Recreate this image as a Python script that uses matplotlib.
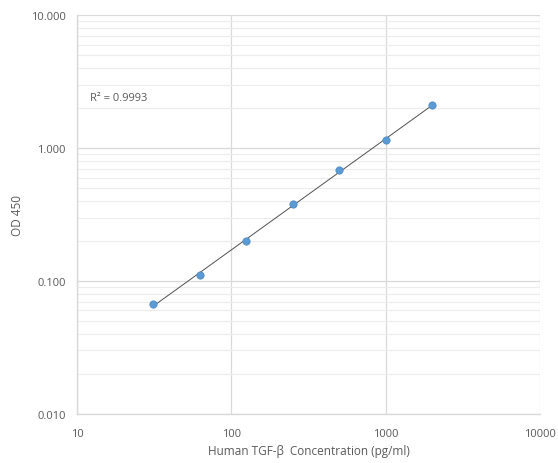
import numpy as np
import matplotlib.pyplot as plt
from matplotlib.ticker import FixedLocator, FuncFormatter, NullFormatter

# standard curve
conc = [31.25, 62.5, 125, 250, 500, 1000, 2000]
od450 = [0.067, 0.111, 0.200, 0.379, 0.684, 1.15, 2.10]
r2_text = "R\u00b2 = 0.9993"

plt.rcParams['font.family'] = ['Open Sans', 'DejaVu Sans']
text_col = '#595959'
grid_col = '#d9d9d9'

fig = plt.figure(figsize=(5.58, 4.64), dpi=100)
ax = fig.add_axes([0.138, 0.106, 0.830, 0.859])

ax.set_xscale('log')
ax.set_yscale('log')
ax.set_xlim(10, 10000)
ax.set_ylim(0.01, 10)

# power trendline fitted in log space
lx, ly = np.log10(conc), np.log10(od450)
b, a = np.polyfit(lx, ly, 1)
xs = np.logspace(lx[0], lx[-1], 50)
ax.plot(xs, 10 ** a * xs ** b, color='#505050', lw=0.7, zorder=2)

ax.scatter(conc, od450, s=28, color='#5b9bd5', edgecolor='#4a86c0', lw=0.5, zorder=3)

ax.text(0.028, 0.788, r2_text, transform=ax.transAxes, fontsize=8, color=text_col)

ax.xaxis.set_major_locator(FixedLocator([10, 100, 1000, 10000]))
ax.xaxis.set_minor_locator(FixedLocator([]))
ax.xaxis.set_major_formatter(FuncFormatter(lambda v, p: f"{v:.0f}"))
ax.yaxis.set_major_locator(FixedLocator([0.01, 0.1, 1, 10]))
ax.yaxis.set_minor_locator(FixedLocator([m * d for d in (0.01, 0.1, 1) for m in range(2, 10)]))
ax.yaxis.set_major_formatter(FuncFormatter(lambda v, p: f"{v:.3f}"))
ax.yaxis.set_minor_formatter(NullFormatter())

ax.grid(True, which='major', color=grid_col, lw=0.9, zorder=0)
ax.grid(True, which='minor', axis='y', color='#ececec', lw=0.8, zorder=0)
ax.set_axisbelow(True)

for s in ('top', 'right'):
    ax.spines[s].set_visible(False)
for s in ('left', 'bottom'):
    ax.spines[s].set_color(grid_col)
    ax.spines[s].set_linewidth(1)

ax.tick_params(which='both', length=0, labelsize=8, colors=text_col)
ax.tick_params(axis='x', pad=10)
ax.tick_params(axis='y', pad=8)

ax.set_xlabel("Human TGF-\u03b2  Concentration (pg/ml)", fontsize=8.5, color=text_col, va='center')
ax.set_ylabel("OD 450", fontsize=8.5, color=text_col, va='center')
ax.xaxis.set_label_coords(0.5, -0.093)
ax.yaxis.set_label_coords(-0.128, 0.5)

fig.savefig("out.png", dpi=100)
